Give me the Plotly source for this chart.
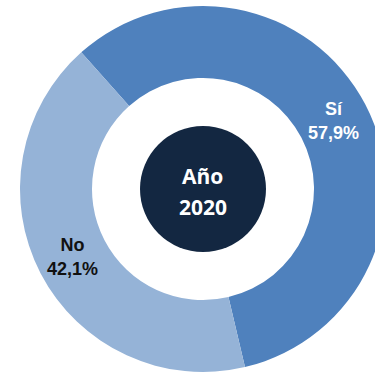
import plotly.graph_objects as go

# Data
labels = ["Sí", "No"]
values = [57.9, 42.1]
slice_colors = ["#4F81BD", "#95B3D7"]
text_colors = ["#FFFFFF", "#111111"]
center_lines = ["Año", "2020"]

W, H = 400, 373
cx, cy, R = 203, 189, 183  # pixel geometry of donut
hole = 111 / 183
rc = 63

def dom_x(c, r):
    return [(c - r) / W, (c + r) / W]

def dom_y(c, r):
    return [(H - (c + r)) / H, (H - (c - r)) / H]

fig = go.Figure()
fig.add_trace(go.Pie(
    labels=labels, values=values, sort=False, direction="clockwise",
    rotation=-41.7, hole=hole,
    marker=dict(colors=slice_colors, line=dict(width=0)),
    textposition="inside", insidetextorientation="horizontal",
    texttemplate="<b>%{label}<br>%{percent:.1%}</b>",
    textfont=dict(family="Liberation Sans, Arial", size=18, color=text_colors),
    domain=dict(x=dom_x(cx, R), y=dom_y(cy, R)),
    hoverinfo="skip", showlegend=False,
))
fig.add_trace(go.Pie(
    labels=["centro"], values=[1], sort=False,
    marker=dict(colors=["#132741"], line=dict(width=0)),
    textinfo="none", hoverinfo="skip", showlegend=False,
    domain=dict(x=dom_x(cx, rc), y=dom_y(cy, rc)),
))
for i, t in enumerate(center_lines):
    fig.add_annotation(
        text=f"<b>{t}</b>", x=cx / W, y=(H - (176 + 31 * i)) / H,
        xref="paper", yref="paper", showarrow=False,
        font=dict(family="Open Sans", size=21, color="#FFFFFF"),
        xanchor="center", yanchor="middle",
    )

fig.update_layout(
    width=W, height=H, autosize=False,
    margin=dict(l=0, r=0, t=0, b=0),
    paper_bgcolor="#FFFFFF", plot_bgcolor="#FFFFFF",
    separators=",.",
)

fig.write_html(
    "out.html",
    config={"displayModeBar": False},
    post_script="document.body.style.margin='0';document.body.style.overflow='hidden';document.documentElement.style.overflow='hidden';",
)
